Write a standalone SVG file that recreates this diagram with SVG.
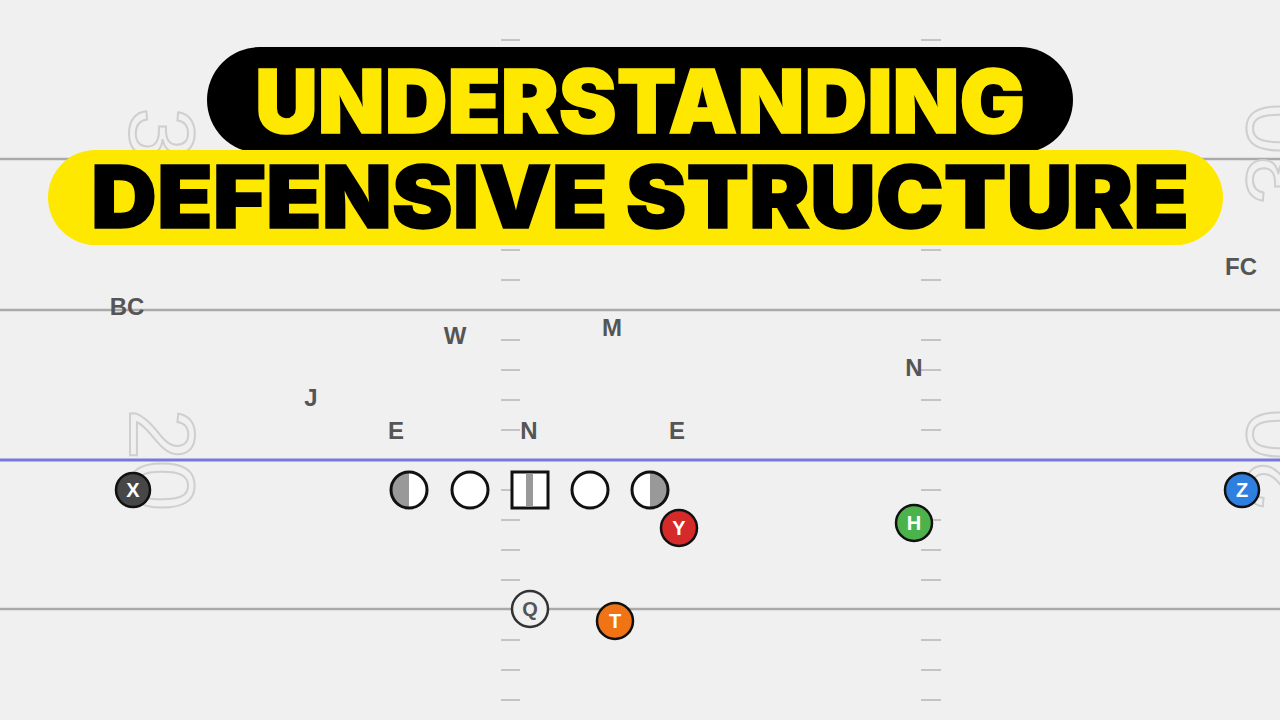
<svg xmlns="http://www.w3.org/2000/svg" width="1280" height="720" viewBox="0 0 1280 720">
<style>
.yl{stroke:#aaaaaa;stroke-width:2.5}
.tk{stroke:#c4c4c4;stroke-width:2}
.num{font-family:"Liberation Sans",Arial,sans-serif;font-size:92px;fill:none;stroke:#cfcfcf;stroke-width:2;text-anchor:middle}
.lbl{font-family:"Liberation Sans",Arial,sans-serif;font-weight:bold;font-size:24px;fill:#555;text-anchor:middle}
.ol{fill:#fff;stroke:#111;stroke-width:3}
.pl{stroke:#111;stroke-width:2.5}
.pt{font-family:"Liberation Sans",Arial,sans-serif;font-weight:bold;font-size:20px;fill:#fff;text-anchor:middle}
.title{font-family:Inter,"Liberation Sans",Arial,sans-serif;font-weight:900;text-anchor:middle}
</style>
<rect width="1280" height="720" fill="#f0f0f0"/>
<g id="field">
<line class="yl" x1="0" y1="159" x2="1280" y2="159"/>
<line class="yl" x1="0" y1="310" x2="1280" y2="310"/>
<line class="yl" x1="0" y1="609" x2="1280" y2="609"/>
<line x1="0" y1="460" x2="1280" y2="460" stroke="#7878d8" stroke-width="3"/>
<g id="hash-left">
<line class="tk" x1="501" y1="40" x2="520" y2="40"/>
<line class="tk" x1="501" y1="250" x2="520" y2="250"/>
<line class="tk" x1="501" y1="280" x2="520" y2="280"/>
<line class="tk" x1="501" y1="340" x2="520" y2="340"/>
<line class="tk" x1="501" y1="370" x2="520" y2="370"/>
<line class="tk" x1="501" y1="400" x2="520" y2="400"/>
<line class="tk" x1="501" y1="430" x2="520" y2="430"/>
<line class="tk" x1="501" y1="490" x2="520" y2="490"/>
<line class="tk" x1="501" y1="520" x2="520" y2="520"/>
<line class="tk" x1="501" y1="550" x2="520" y2="550"/>
<line class="tk" x1="501" y1="580" x2="520" y2="580"/>
<line class="tk" x1="501" y1="640" x2="520" y2="640"/>
<line class="tk" x1="501" y1="670" x2="520" y2="670"/>
<line class="tk" x1="501" y1="700" x2="520" y2="700"/>
</g>
<g id="hash-right">
<line class="tk" x1="921" y1="40" x2="941" y2="40"/>
<line class="tk" x1="921" y1="250" x2="941" y2="250"/>
<line class="tk" x1="921" y1="280" x2="941" y2="280"/>
<line class="tk" x1="921" y1="340" x2="941" y2="340"/>
<line class="tk" x1="921" y1="370" x2="941" y2="370"/>
<line class="tk" x1="921" y1="400" x2="941" y2="400"/>
<line class="tk" x1="921" y1="430" x2="941" y2="430"/>
<line class="tk" x1="921" y1="490" x2="941" y2="490"/>
<line class="tk" x1="921" y1="520" x2="941" y2="520"/>
<line class="tk" x1="921" y1="550" x2="941" y2="550"/>
<line class="tk" x1="921" y1="580" x2="941" y2="580"/>
<line class="tk" x1="921" y1="640" x2="941" y2="640"/>
<line class="tk" x1="921" y1="670" x2="941" y2="670"/>
<line class="tk" x1="921" y1="700" x2="941" y2="700"/>
</g>
<text class="num" transform="translate(130,159) rotate(90)">30</text>
<text class="num" transform="translate(130,460) rotate(90)">20</text>
<text class="num" transform="translate(1311,154) rotate(-90)">30</text>
<text class="num" transform="translate(1311,460) rotate(-90)">20</text>
</g>
<g id="labels">
<text class="lbl" x="127" y="315">BC</text>
<text class="lbl" x="455" y="344">W</text>
<text class="lbl" x="612" y="336">M</text>
<text class="lbl" x="311" y="406">J</text>
<text class="lbl" x="396" y="439">E</text>
<text class="lbl" x="529" y="439">N</text>
<text class="lbl" x="677" y="439">E</text>
<text class="lbl" x="914" y="376">N</text>
<text class="lbl" x="1241" y="275">FC</text>
</g>
<g id="line-left-end">
<circle cx="409" cy="490" r="18" fill="#fff"/>
<path d="M409,472 A18,18 0 0 0 409,508 Z" fill="#999"/>
<circle cx="409" cy="490" r="18" fill="none" stroke="#111" stroke-width="3"/>
</g>
<g id="line-lg"><circle class="ol" cx="470" cy="490" r="18"/></g>
<g id="line-c">
<rect x="512" y="472" width="36" height="36" fill="#fff" stroke="#111" stroke-width="3"/>
<rect x="526" y="473.5" width="7" height="33" fill="#999"/>
</g>
<g id="line-rg"><circle class="ol" cx="590" cy="490" r="18"/></g>
<g id="line-right-end">
<circle cx="650" cy="490" r="18" fill="#fff"/>
<path d="M650,472 A18,18 0 0 1 650,508 Z" fill="#999"/>
<circle cx="650" cy="490" r="18" fill="none" stroke="#111" stroke-width="3"/>
</g>
<g id="player-x"><circle class="pl" cx="133" cy="490" r="17" fill="#474747"/><text class="pt" x="133" y="497">X</text></g>
<g id="player-y"><circle class="pl" cx="679" cy="528" r="18" fill="#d42a2a"/><text class="pt" x="679" y="535">Y</text></g>
<g id="player-h"><circle class="pl" cx="914" cy="523" r="18" fill="#4cb34c"/><text class="pt" x="914" y="530">H</text></g>
<g id="player-z"><circle class="pl" cx="1242" cy="490" r="17" fill="#2f7fe0"/><text class="pt" x="1242" y="497">Z</text></g>
<g id="player-q"><circle cx="530" cy="609" r="18" fill="#f0f0f0" stroke="#333" stroke-width="2.5"/><text class="pt" x="530" y="616" style="fill:#555">Q</text></g>
<g id="player-t"><circle class="pl" cx="615" cy="621" r="18" fill="#f07315"/><text class="pt" x="615" y="628">T</text></g>
<g id="title">
<rect x="207" y="47" width="866" height="106" rx="53" fill="#000"/>
<text class="title" x="640" y="133" font-size="88" fill="#ffe800" stroke="#ffe800" stroke-width="1.5" textLength="770" lengthAdjust="spacingAndGlyphs">UNDERSTANDING</text>
<rect x="48" y="150" width="1175" height="95" rx="47.5" fill="#ffe800"/>
<text class="title" x="640" y="228" font-size="86" fill="#000" stroke="#000" stroke-width="1.5" textLength="1098" lengthAdjust="spacingAndGlyphs">DEFENSIVE STRUCTURE</text>
</g>
<g id="connectors"></g>
</svg>
